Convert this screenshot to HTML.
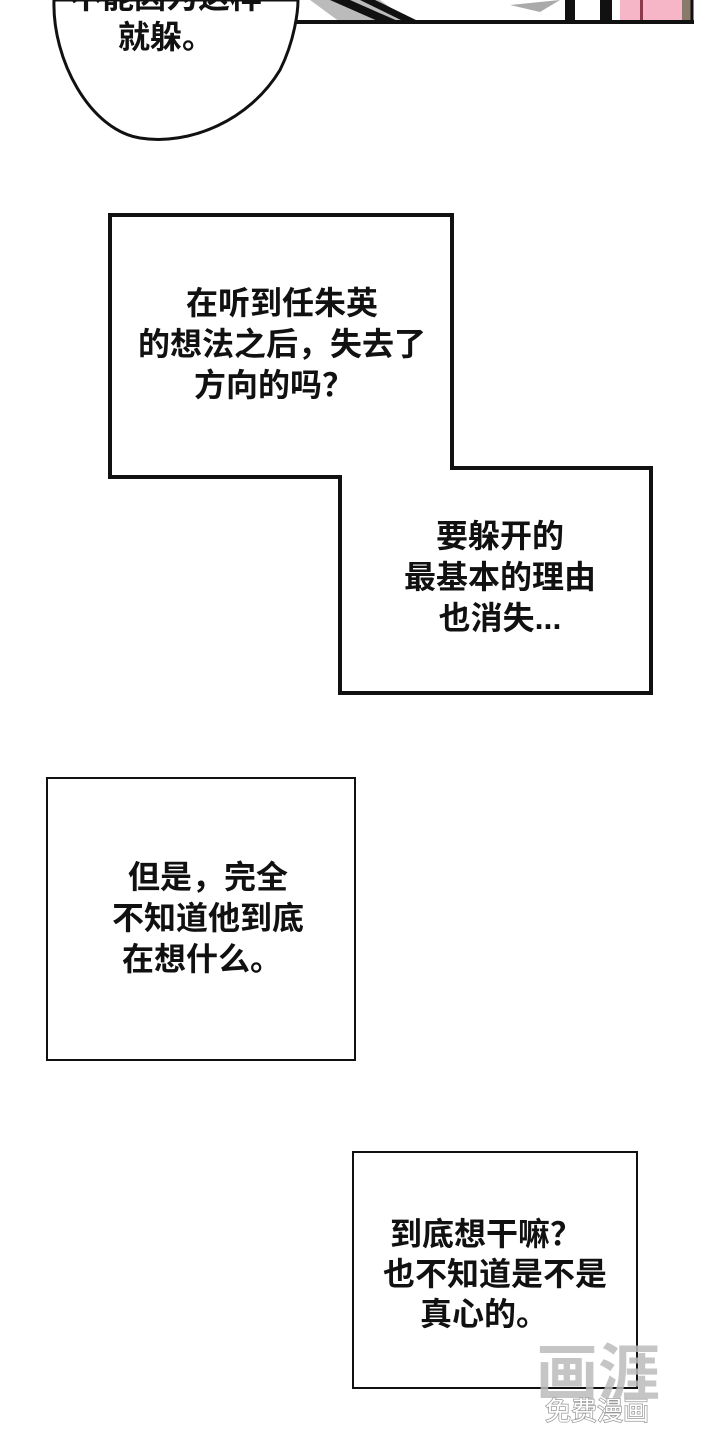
<!DOCTYPE html>
<html><head><meta charset="utf-8"><style>
html,body{margin:0;padding:0;background:#fff;}
svg{display:block}
text{font-family:"Liberation Sans","Noto Sans CJK SC",sans-serif;font-size:32px;fill:#111;text-anchor:middle;font-weight:600}
</style></head><body>
<svg width="720" height="1440" viewBox="0 0 720 1440" xmlns="http://www.w3.org/2000/svg">
<rect width="720" height="1440" fill="#fff"/>
<rect x="296" y="0" width="397" height="22" fill="#fff"/>
<polygon points="310,0 380,0 410,22 340,22" fill="#bbb"/>
<polygon points="330,0 350,0 400,22 380,22" fill="#111"/>
<polygon points="360,0 375,0 420,22 405,22" fill="#111"/>
<polygon points="510,5 560,0 540,12" fill="#aaa"/>
<rect x="565" y="0" width="10" height="22" fill="#111"/>
<rect x="600" y="0" width="12" height="22" fill="#111"/>
<rect x="620" y="0" width="62" height="22" fill="#f7b6c8"/>
<rect x="640" y="0" width="3" height="22" fill="#8a3a4a"/>
<rect x="682" y="0" width="10" height="22" fill="#8a7a6a"/>
<line x1="296" y1="22" x2="694" y2="22" stroke="#111" stroke-width="4"/>
<line x1="692" y1="0" x2="692" y2="22" stroke="#111" stroke-width="3"/>
<path d="M54,0 C52,60 90,130 140,138 C190,146 250,120 280,70 C295,40 298,10 298,0 Z" fill="#fff" stroke="#111" stroke-width="3"/>
<text x="166" y="48">就躲。</text>
<text x="166" y="8">不能因为这样</text>
<polygon points="110,215 452,215 452,468 651,468 651,693 340,693 340,477 110,477" fill="#fff" stroke="#111" stroke-width="4"/>
<text x="282" y="314">在听到任朱英</text>
<text x="282" y="355">的想法之后，失去了</text>
<text x="274" y="396">方向的吗？</text>
<text x="500" y="547">要躲开的</text>
<text x="500" y="588">最基本的理由</text>
<text x="500" y="629">也消失...</text>
<rect x="47" y="778" width="308" height="282" fill="#fff" stroke="#111" stroke-width="2"/>
<text x="208" y="888">但是，完全</text>
<text x="208" y="929">不知道他到底</text>
<text x="202" y="970">在想什么。</text>
<rect x="353" y="1152" width="284" height="236" fill="#fff" stroke="#111" stroke-width="2"/>
<text x="486" y="1245">到底想干嘛？</text>
<text x="495" y="1285">也不知道是不是</text>
<text x="484" y="1325">真心的。</text>
<text x="598" y="1395" style="font-size:62px;fill:#bbb;font-weight:700;opacity:.85">画涯</text>
<text x="597" y="1420" style="font-size:26px;fill:#fff;stroke:#999;stroke-width:1.5;paint-order:stroke;font-weight:400">免费漫画</text>
</svg>
</body></html>
